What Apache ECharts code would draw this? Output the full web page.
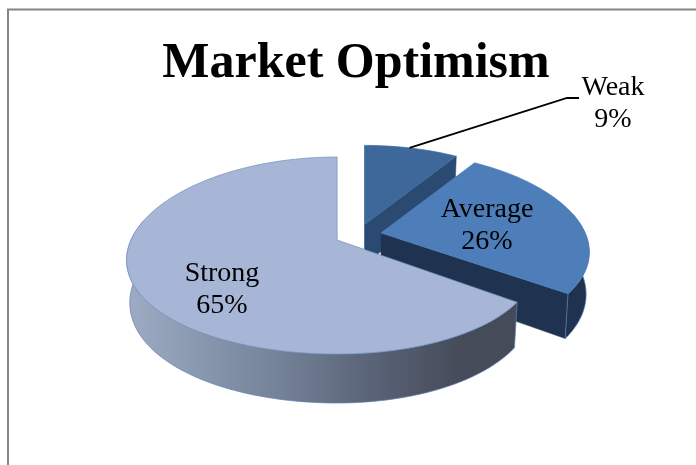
<!DOCTYPE html>
<html>
<head>
<meta charset="utf-8">
<style>html,body{margin:0;padding:0;background:#fff}#c{width:696px;height:465px}</style>
<script src="https://cdn.jsdelivr.net/npm/echarts@6/dist/echarts.min.js"></script>
</head>
<body>
<div id="c"></div>
<script>
var categories = ['Weak', 'Average', 'Strong'];
var values = [9, 26, 65];
var titleText = 'Market Optimism';

var FONT = '"Liberation Serif", serif';
var topColors = ['#3d6899', '#4d7eba', '#a7b6d6'];
var cutColors = ['#2b4a72', '#1f3350', '#1f3350'];
var edgeColors = ['#3d6899', '#4f7fb8', '#7390bd'];
var labelPos = [[613, 104], [487, 226], [222, 290]];

// perspective ellipse model
var X0 = 358, Y0 = 235, A = 94.5, K = 0.1555, KX = 0.2, H = 41, SHRINK = 0.985, EXPLODE = 0.117;
var R_LEFT = 204, R_RIGHT = [204, 205, 194], R_OFFSET = 200;

var total = values.reduce(function (a, b) { return a + b; }, 0);
var slices = [];
values.reduce(function (acc, v, i) {
  var a0 = acc / total * 360, a1 = (acc + v) / total * 360, mid = (a0 + a1) / 2 * Math.PI / 180;
  slices.push({ a0: a0, a1: a1, ox: EXPLODE * Math.sin(mid), oy: -EXPLODE * Math.cos(mid), rr: R_RIGHT[i] });
  return acc + v;
}, 0);
function pt(s, deg, r, low) {
  var t = deg * Math.PI / 180;
  var ru = r * Math.sin(t), v = s.oy - r * Math.cos(t);
  var d = 1 - K * v, dx = 1 - KX * v;
  var side = ru < 0 ? R_LEFT : s.rr;
  return [
    X0 + R_OFFSET * s.ox + (low ? SHRINK : 1) * side * ru / dx,
    Y0 + A * v / d + (low ? H / d : 0)
  ];
}
function arc(s, a0, a1, low) {
  var out = [], n = Math.max(2, Math.ceil((a1 - a0) / 2));
  for (var i = 0; i <= n; i++) out.push(pt(s, a0 + (a1 - a0) * i / n, 1, low));
  return out;
}
var wallGradient = new echarts.graphic.LinearGradient(128, 0, 518, 0, [
  { offset: 0, color: '#9dabc4' },
  { offset: 0.35, color: '#78869c' },
  { offset: 0.62, color: '#5a6478' },
  { offset: 0.85, color: '#454b59' },
  { offset: 1, color: '#454b59' }
], true);

function renderItem(params) {
  var i = params.dataIndex, s = slices[i], kids = [];
  var wallFill = i === 2 ? wallGradient : cutColors[i];
  if (Math.sin(s.a1 * Math.PI / 180) > 1e-6) {
    kids.push({ type: 'polygon', shape: { points: [pt(s, 0, 0, false), pt(s, s.a1, 1, false), pt(s, s.a1, 1, true), pt(s, 0, 0, true)] },
      style: { fill: cutColors[i], stroke: cutColors[i], lineWidth: 0.5 } });
  }
  var w0 = Math.max(s.a0, 78), w1 = Math.min(s.a1, 282);
  if (w1 > w0) {
    kids.push({ type: 'polygon', shape: { points: arc(s, w0, w1, false).concat(arc(s, w0, w1, true).reverse()) },
      style: { fill: wallFill, stroke: '#5f82b4', lineWidth: 0.7 } });
  }
  kids.push({ type: 'polygon', shape: { points: [pt(s, 0, 0, false)].concat(arc(s, s.a0, s.a1, false)) },
    style: { fill: topColors[i], stroke: edgeColors[i], lineWidth: 0.7 } });
  return { type: 'group', children: kids };
}
function renderLabels(params) {
  var i = params.dataIndex, s = slices[i], kids = [];
  var p = labelPos[i];
  if (i === 0) {
    var a = pt(s, (s.a0 + s.a1) * 0.48, 1, false);
    kids.push({ type: 'polyline', shape: { points: [a, [567, 98], [579, 98]] },
      style: { stroke: '#000', lineWidth: 1.8, fill: null } });
  }
  kids.push({ type: 'text', x: p[0], y: p[1], style: {
    text: categories[i] + '\n' + values[i] + '%', font: '28px ' + FONT, fill: '#000',
    align: 'center', verticalAlign: 'middle', lineHeight: 32 } });
  return { type: 'group', children: kids };
}
var chart = echarts.init(document.getElementById('c'), null, { renderer: 'canvas' });
var data = categories.map(function (c, i) { return { name: c, value: values[i] }; });
chart.setOption({
  animation: false,
  backgroundColor: '#fff',
  title: { text: titleText, left: 351, top: 34, textAlign: 'center',
    textStyle: { fontFamily: FONT, fontWeight: 'bold', fontSize: 50, color: '#000' } },
  graphic: [{ type: 'polyline', shape: { points: [[8, 465], [8, 9.5], [696, 9.5]] },
    style: { stroke: '#868686', lineWidth: 2, fill: null }, silent: true }],
  series: [
    { type: 'custom', coordinateSystem: 'none', renderItem: renderItem, data: data, silent: true, z: 2 },
    { type: 'custom', coordinateSystem: 'none', renderItem: renderLabels, data: data, silent: true, z: 3 }
  ]
});
</script>
</body>
</html>
